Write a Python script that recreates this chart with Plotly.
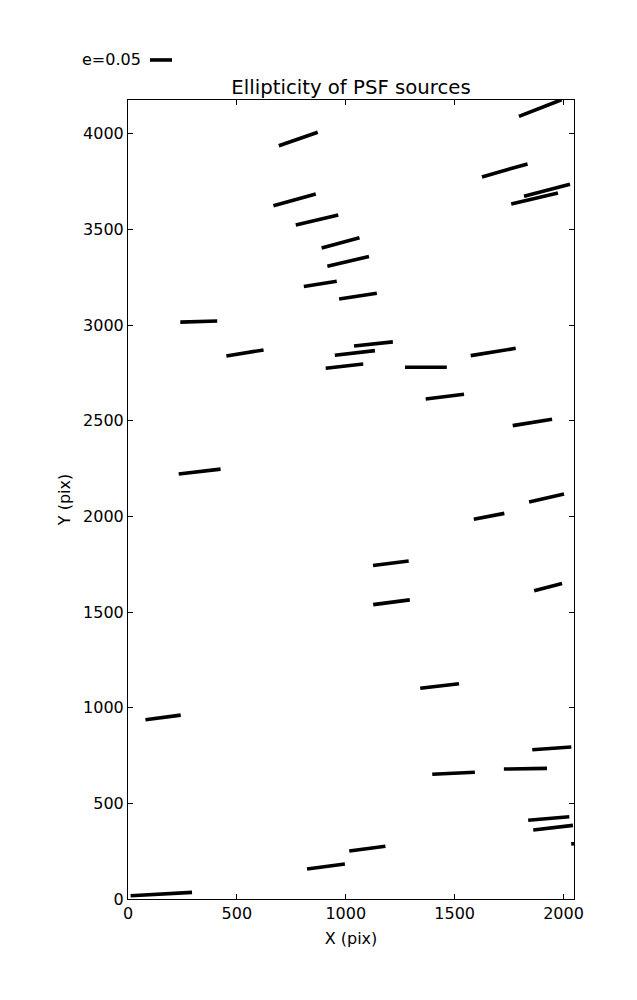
import numpy as np
import plotly.graph_objects as go

# ---- data: PSF source positions (pix), ellipticity and position angle (deg) ----
src_x = [1893, 782, 1730, 1924, 1867, 765, 868, 976, 1011, 883, 1056,
         325, 537, 1127, 1042, 994, 1368, 1677, 1455, 1857, 329,
         1658, 1922, 1207, 1210, 1929, 1431, 161, 1946, 1495, 1825,
         1932, 1952, 2126, 909, 1099, 153]
src_y = [4134, 3972, 3808, 3704, 3661, 3654, 3549, 3429, 3333, 3215, 3151,
         3018, 2854, 2901, 2854, 2785, 2779, 2859, 2626, 2491, 2234,
         2000, 2096, 1755, 1551, 1630, 1113, 949, 787, 657, 681,
         421, 373, 293, 170, 263, 26]
ellip = [0.106, 0.095, 0.109, 0.109, 0.110, 0.101, 0.100, 0.090, 0.098, 0.076, 0.087,
         0.084, 0.086, 0.089, 0.092, 0.086, 0.095, 0.104, 0.088, 0.091, 0.096,
         0.071, 0.082, 0.082, 0.084, 0.066, 0.089, 0.081, 0.089, 0.097, 0.098,
         0.094, 0.091, 0.090, 0.087, 0.083, 0.140]
angle_deg = [24, 21.5, 18, 16.5, 15, 17.5, 15, 17, 15, 10, 10,
             2, 10.5, 7, 7.5, 7.5, 0, 10.5, 8, 10.5, 7.5,
             12.5, 14.5, 8, 8.5, 16, 7.5, 8.5, 4.5, 3, 1,
             5.5, 7.5, 3, 8.5, 8.5, 3.6]

key_e = 0.05
key_label = "e=0.05"
x_ticks = [0, 500, 1000, 1500, 2000]
y_ticks = [0, 500, 1000, 1500, 2000, 2500, 3000, 3500, 4000]

# ---- scale: data units of whisker length per unit ellipticity ----
SCALE = 2020.0
X_MAX, Y_MAX = 2048, 4176

xs, ys = [], []
for cx, cy, e, a in zip(src_x, src_y, ellip, angle_deg):
    h = 0.5 * e * SCALE
    t = np.deg2rad(a)
    dx, dy = h * np.cos(t), h * np.sin(t)
    xs += [cx - dx, cx + dx, None]
    ys += [cy - dy, cy + dy, None]

FONT = "DejaVu Sans"
fig = go.Figure()
fig.add_trace(go.Scatter(x=xs, y=ys, mode="lines",
                         line=dict(color="black", width=3.6),
                         hoverinfo="skip", showlegend=False))

# key bar
key_x0 = 101
fig.add_shape(type="line", xref="x", yref="paper",
              x0=key_x0, x1=key_x0 + key_e * SCALE, y0=1.0501, y1=1.0501,
              line=dict(color="black", width=3.6))
fig.add_annotation(xref="x", yref="paper", x=70, y=1.0501,
                   text=key_label, showarrow=False, xanchor="right", yanchor="middle",
                   font=dict(family=FONT, size=16, color="black"))

axis_common = dict(showgrid=False, zeroline=False, showline=True, linecolor="black",
                   linewidth=1, mirror="allticks", ticks="inside", ticklen=5,
                   tickcolor="black", tickwidth=1,
                   tickfont=dict(family=FONT, size=16, color="black"))

# page body has an 8px margin, so the figure is sized/margined to compensate
fig.update_layout(
    width=629, height=992,
    margin=dict(l=120, r=63, t=92, b=101),
    paper_bgcolor="white", plot_bgcolor="white",
    font=dict(family=FONT, size=16, color="black"),
    title=dict(text="Ellipticity of PSF sources", x=0.5, xref="paper", xanchor="center",
               y=1, yref="paper", yanchor="bottom", pad=dict(b=6),
               font=dict(family=FONT, size=19.7, color="black")),
    xaxis=dict(range=[0, X_MAX], tickvals=x_ticks,
               title=dict(text="X (pix)", standoff=10, font=dict(family=FONT, size=16)),
               **axis_common),
    yaxis=dict(range=[0, Y_MAX], tickvals=y_ticks,
               title=dict(text="Y (pix)", standoff=8, font=dict(family=FONT, size=16)),
               **axis_common),
)

fig.write_html("out.html")
